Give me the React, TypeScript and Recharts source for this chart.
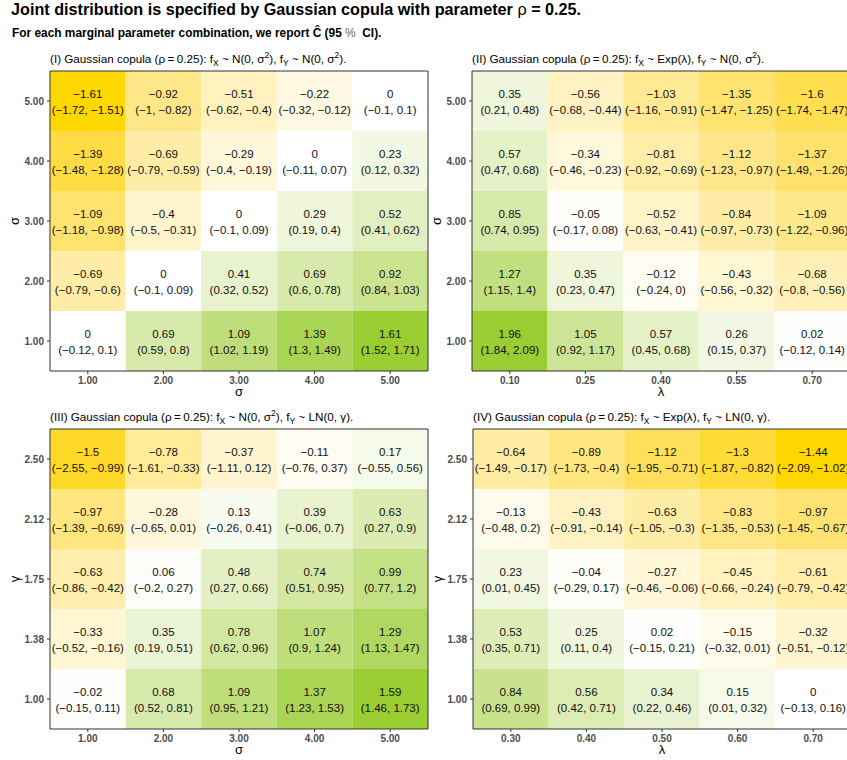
import React from 'react';
import { ScatterChart, Scatter, XAxis, YAxis, ReferenceArea } from 'recharts';

// ---------- tick labels ----------
const sigmaLabels = ['1.00', '2.00', '3.00', '4.00', '5.00'];
const lambdaLabelsII = ['0.10', '0.25', '0.40', '0.55', '0.70'];
const lambdaLabelsIV = ['0.30', '0.40', '0.50', '0.60', '0.70'];
const gammaLabels = ['1.00', '1.38', '1.75', '2.12', '2.50'];

// ---------- values (rows listed from top row to bottom row) ----------
// Panel I
const estI = [
  [-1.61, -0.92, -0.51, -0.22, 0],
  [-1.39, -0.69, -0.29, 0, 0.23],
  [-1.09, -0.4, 0, 0.29, 0.52],
  [-0.69, 0, 0.41, 0.69, 0.92],
  [0, 0.69, 1.09, 1.39, 1.61],
];
const loI = [
  [-1.72, -1, -0.62, -0.32, -0.1],
  [-1.48, -0.79, -0.4, -0.11, 0.12],
  [-1.18, -0.5, -0.1, 0.19, 0.41],
  [-0.79, -0.1, 0.32, 0.6, 0.84],
  [-0.12, 0.59, 1.02, 1.3, 1.52],
];
const hiI = [
  [-1.51, -0.82, -0.4, -0.12, 0.1],
  [-1.28, -0.59, -0.19, 0.07, 0.32],
  [-0.98, -0.31, 0.09, 0.4, 0.62],
  [-0.6, 0.09, 0.52, 0.78, 1.03],
  [0.1, 0.8, 1.19, 1.49, 1.71],
];
// Panel II
const estII = [
  [0.35, -0.56, -1.03, -1.35, -1.6],
  [0.57, -0.34, -0.81, -1.12, -1.37],
  [0.85, -0.05, -0.52, -0.84, -1.09],
  [1.27, 0.35, -0.12, -0.43, -0.68],
  [1.96, 1.05, 0.57, 0.26, 0.02],
];
const loII = [
  [0.21, -0.68, -1.16, -1.47, -1.74],
  [0.47, -0.46, -0.92, -1.23, -1.49],
  [0.74, -0.17, -0.63, -0.97, -1.22],
  [1.15, 0.23, -0.24, -0.56, -0.8],
  [1.84, 0.92, 0.45, 0.15, -0.12],
];
const hiII = [
  [0.48, -0.44, -0.91, -1.25, -1.47],
  [0.68, -0.23, -0.69, -0.97, -1.26],
  [0.95, 0.08, -0.41, -0.73, -0.96],
  [1.4, 0.47, 0, -0.32, -0.56],
  [2.09, 1.17, 0.68, 0.37, 0.14],
];
// Panel III
const estIII = [
  [-1.5, -0.78, -0.37, -0.11, 0.17],
  [-0.97, -0.28, 0.13, 0.39, 0.63],
  [-0.63, 0.06, 0.48, 0.74, 0.99],
  [-0.33, 0.35, 0.78, 1.07, 1.29],
  [-0.02, 0.68, 1.09, 1.37, 1.59],
];
const loIII = [
  [-2.55, -1.61, -1.11, -0.76, -0.55],
  [-1.39, -0.65, -0.26, -0.06, 0.27],
  [-0.86, -0.2, 0.27, 0.51, 0.77],
  [-0.52, 0.19, 0.62, 0.9, 1.13],
  [-0.15, 0.52, 0.95, 1.23, 1.46],
];
const hiIII = [
  [-0.99, -0.33, 0.12, 0.37, 0.56],
  [-0.69, 0.01, 0.41, 0.7, 0.9],
  [-0.42, 0.27, 0.66, 0.95, 1.2],
  [-0.16, 0.51, 0.96, 1.24, 1.47],
  [0.11, 0.81, 1.21, 1.53, 1.73],
];
// Panel IV
const estIV = [
  [-0.64, -0.89, -1.12, -1.3, -1.44],
  [-0.13, -0.43, -0.63, -0.83, -0.97],
  [0.23, -0.04, -0.27, -0.45, -0.61],
  [0.53, 0.25, 0.02, -0.15, -0.32],
  [0.84, 0.56, 0.34, 0.15, 0],
];
const loIV = [
  [-1.49, -1.73, -1.95, -1.87, -2.09],
  [-0.48, -0.91, -1.05, -1.35, -1.45],
  [0.01, -0.29, -0.46, -0.66, -0.79],
  [0.35, 0.11, -0.15, -0.32, -0.51],
  [0.69, 0.42, 0.22, 0.01, -0.13],
];
const hiIV = [
  [-0.17, -0.4, -0.71, -0.82, -1.02],
  [0.2, -0.14, -0.3, -0.53, -0.67],
  [0.45, 0.17, -0.06, -0.24, -0.42],
  [0.71, 0.4, 0.21, 0.01, -0.12],
  [0.99, 0.71, 0.46, 0.32, 0.16],
];

// ---------- colour scale (gold - white - yellowgreen, Lab interpolation) ----------
const LOW = '#FFD700';
const MID = '#FFFFFF';
const HIGH = '#9ACD32';

function hexToLab(hex: string): number[] {
  const n = parseInt(hex.slice(1), 16);
  const c = [(n >> 16) & 255, (n >> 8) & 255, n & 255].map((v) => {
    const s = v / 255;
    return s <= 0.04045 ? s / 12.92 : Math.pow((s + 0.055) / 1.055, 2.4);
  });
  const X = (0.4124564 * c[0] + 0.3575761 * c[1] + 0.1804375 * c[2]) / 0.95047;
  const Y = 0.2126729 * c[0] + 0.7151522 * c[1] + 0.072175 * c[2];
  const Z = (0.0193339 * c[0] + 0.119192 * c[1] + 0.9503041 * c[2]) / 1.08883;
  const f = (t: number) => (t > 0.008856 ? Math.cbrt(t) : 7.787 * t + 16 / 116);
  return [116 * f(Y) - 16, 500 * (f(X) - f(Y)), 200 * (f(Y) - f(Z))];
}
function labToHex(lab: number[]): string {
  const fy = (lab[0] + 16) / 116;
  const fx = fy + lab[1] / 500;
  const fz = fy - lab[2] / 200;
  const inv = (t: number) => (t * t * t > 0.008856 ? t * t * t : (t - 16 / 116) / 7.787);
  const X = inv(fx) * 0.95047;
  const Y = inv(fy);
  const Z = inv(fz) * 1.08883;
  const lin = [
    3.2404542 * X - 1.5371385 * Y - 0.4985314 * Z,
    -0.969266 * X + 1.8760108 * Y + 0.041556 * Z,
    0.0556434 * X - 0.2040259 * Y + 1.0572252 * Z,
  ];
  return (
    '#' +
    lin
      .map((v) => {
        const s = v <= 0.0031308 ? 12.92 * v : 1.055 * Math.pow(v, 1 / 2.4) - 0.055;
        const k = Math.max(0, Math.min(255, Math.round(s * 255)));
        return k.toString(16).padStart(2, '0');
      })
      .join('')
  );
}
const labLow = hexToLab(LOW);
const labMid = hexToLab(MID);
const labHigh = hexToLab(HIGH);
function fillFor(v: number, maxAbs: number): string {
  const t = maxAbs === 0 ? 0 : v / maxAbs;
  const target = t < 0 ? labLow : labHigh;
  const k = Math.min(1, Math.abs(t));
  return labToHex(labMid.map((m, i) => m + (target[i] - m) * k));
}

const fmt = (v: number) => String(v).replace('-', '\u2212');

type Cell = { x: number; y: number; est: number; lo: number; hi: number };
function buildCells(est: number[][], lo: number[][], hi: number[][]): Cell[] {
  const out: Cell[] = [];
  est.forEach((row, r) =>
    row.forEach((v, c) => out.push({ x: c + 1, y: 5 - r, est: v, lo: lo[r][c], hi: hi[r][c] }))
  );
  return out;
}

const CellText = (props: any) => {
  const { cx, cy, payload } = props;
  if (cx == null || cy == null || !payload) return null;
  return (
    <g>
      <text x={cx} y={cy - 3} textAnchor="middle" fontSize={11.5} fill="#111">
        {fmt(payload.est)}
      </text>
      <text x={cx} y={cy + 12.5} textAnchor="middle" fontSize={11.5} fill="#111">
        {'(' + fmt(payload.lo) + ', ' + fmt(payload.hi) + ')'}
      </text>
    </g>
  );
};

const Sub = ({ children }: { children: React.ReactNode }) => (
  <span style={{ fontSize: 8.5, verticalAlign: -3, lineHeight: 0 }}>{children}</span>
);
const Sup = ({ children }: { children: React.ReactNode }) => (
  <span style={{ fontSize: 8.5, verticalAlign: 5, lineHeight: 0 }}>{children}</span>
);

const rho = '(\u03C1\u2009=\u20090.25)';

const PLOT_W = 378;
const PLOT_H = 300;

type PanelProps = {
  plotLeft: number;
  plotTop: number;
  title: React.ReactNode;
  cells: Cell[];
  xLabels: string[];
  yLabels: string[];
  xTitle: string;
  yTitle: string;
};

function Panel({ plotLeft, plotTop, title, cells, xLabels, yLabels, xTitle, yTitle }: PanelProps) {
  const maxAbs = Math.max(...cells.map((c) => Math.abs(c.est)));
  const tickStyle = { fontSize: 10, fontWeight: 700, fill: '#4D4D4D' };
  return (
    <>
      <div
        style={{
          position: 'absolute',
          left: plotLeft,
          top: plotTop - 18,
          fontSize: 11.7,
          lineHeight: '12px',
          whiteSpace: 'nowrap',
          color: '#000',
        }}
      >
        {title}
      </div>
      <div
        style={{
          position: 'absolute',
          left: plotLeft,
          width: PLOT_W,
          top: plotTop + 317,
          height: 8,
          fontSize: 13,
          lineHeight: '8px',
          textAlign: 'center',
          color: '#000',
        }}
      >
        {xTitle}
      </div>
      <div
        style={{
          position: 'absolute',
          left: plotLeft - 35.5 - PLOT_H / 2,
          width: PLOT_H,
          top: plotTop + PLOT_H / 2 - 8,
          height: 16,
          fontSize: 13,
          lineHeight: '16px',
          textAlign: 'center',
          color: '#000',
          transform: 'rotate(-90deg)',
          transformOrigin: '50% 50%',
        }}
      >
        {yTitle}
      </div>
      <div style={{ position: 'absolute', left: plotLeft - 50, top: plotTop - 2 }}>
        <ScatterChart width={50 + PLOT_W + 2} height={PLOT_H + 32} margin={{ top: 2, right: 2, bottom: 0, left: 0 }}>
          <XAxis
            type="number"
            dataKey="x"
            domain={[0.5, 5.5]}
            ticks={[1, 2, 3, 4, 5]}
            tickFormatter={(v: number) => xLabels[v - 1]}
            allowDataOverflow
            height={30}
            axisLine={false}
            tickLine={{ stroke: '#333333' }}
            tickSize={3}
            tickMargin={3}
            tick={tickStyle}
          />
          <YAxis
            type="number"
            dataKey="y"
            domain={[0.5, 5.5]}
            ticks={[1, 2, 3, 4, 5]}
            tickFormatter={(v: number) => yLabels[v - 1]}
            allowDataOverflow
            width={50}
            axisLine={false}
            tickLine={{ stroke: '#333333' }}
            tickSize={3}
            tickMargin={3}
            tick={tickStyle}
          />
          {cells.map((c) => (
            <ReferenceArea
              key={`${c.x}-${c.y}`}
              x1={c.x - 0.5}
              x2={c.x + 0.5}
              y1={c.y - 0.5}
              y2={c.y + 0.5}
              fill={fillFor(c.est, maxAbs)}
              fillOpacity={1}
              stroke="none"
              ifOverflow="visible"
            />
          ))}
          <Scatter data={cells} shape={<CellText />} isAnimationActive={false} />
          <ReferenceArea
            x1={0.5}
            x2={5.5}
            y1={0.5}
            y2={5.5}
            fill="none"
            fillOpacity={0}
            stroke="#333333"
            strokeWidth={1}
            ifOverflow="visible"
            isFront
          />
        </ScatterChart>
      </div>
    </>
  );
}

export default function App() {
  const cellsI = buildCells(estI, loI, hiI);
  const cellsII = buildCells(estII, loII, hiII);
  const cellsIII = buildCells(estIII, loIII, hiIII);
  const cellsIV = buildCells(estIV, loIV, hiIV);
  return (
    <div
      style={{
        position: 'absolute',
        left: 0,
        top: 0,
        width: 847,
        height: 760,
        overflow: 'hidden',
        background: '#fff',
        fontFamily: '"Liberation Sans", Arial, Helvetica, sans-serif',
      }}
    >
      <div
        style={{
          position: 'absolute',
          left: 11,
          top: 1,
          fontSize: 16.2,
          lineHeight: '16px',
          fontWeight: 700,
          whiteSpace: 'nowrap',
          color: '#000',
        }}
      >
        Joint distribution is specified by Gaussian copula with parameter{' '}
        <span style={{ fontWeight: 400 }}>{'\u03C1'}</span> = 0.25.
      </div>
      <div
        style={{
          position: 'absolute',
          left: 12,
          top: 27,
          fontSize: 11.9,
          lineHeight: '12px',
          fontWeight: 700,
          whiteSpace: 'nowrap',
          color: '#000',
        }}
      >
        For each marginal parameter combination, we report {'\u0108'} (95{' '}
        <span style={{ fontWeight: 400, color: '#666' }}>%</span>
        {'\u00A0'} CI).
      </div>
      <Panel
        plotLeft={50}
        plotTop={71}
        cells={cellsI}
        xLabels={sigmaLabels}
        yLabels={sigmaLabels}
        xTitle={'\u03C3'}
        yTitle={'\u03C3'}
        title={
          <>
            (I) Gaussian copula {rho}: f<Sub>X</Sub> ~ N(0, {'\u03C3'}
            <Sup>2</Sup>), f<Sub>Y</Sub> ~ N(0, {'\u03C3'}
            <Sup>2</Sup>).
          </>
        }
      />
      <Panel
        plotLeft={472}
        plotTop={71}
        cells={cellsII}
        xLabels={lambdaLabelsII}
        yLabels={sigmaLabels}
        xTitle={'\u03BB'}
        yTitle={'\u03C3'}
        title={
          <>
            (II) Gaussian copula {rho}: f<Sub>X</Sub> ~ Exp({'\u03BB'}), f<Sub>Y</Sub> ~ N(0, {'\u03C3'}
            <Sup>2</Sup>).
          </>
        }
      />
      <Panel
        plotLeft={50}
        plotTop={429}
        cells={cellsIII}
        xLabels={sigmaLabels}
        yLabels={gammaLabels}
        xTitle={'\u03C3'}
        yTitle={'\u03B3'}
        title={
          <>
            (III) Gaussian copula {rho}: f<Sub>X</Sub> ~ N(0, {'\u03C3'}
            <Sup>2</Sup>), f<Sub>Y</Sub> ~ LN(0, {'\u03B3'}).
          </>
        }
      />
      <Panel
        plotLeft={473}
        plotTop={429}
        cells={cellsIV}
        xLabels={lambdaLabelsIV}
        yLabels={gammaLabels}
        xTitle={'\u03BB'}
        yTitle={'\u03B3'}
        title={
          <>
            (IV) Gaussian copula {rho}: f<Sub>X</Sub> ~ Exp({'\u03BB'}), f<Sub>Y</Sub> ~ LN(0, {'\u03B3'}).
          </>
        }
      />
    </div>
  );
}
